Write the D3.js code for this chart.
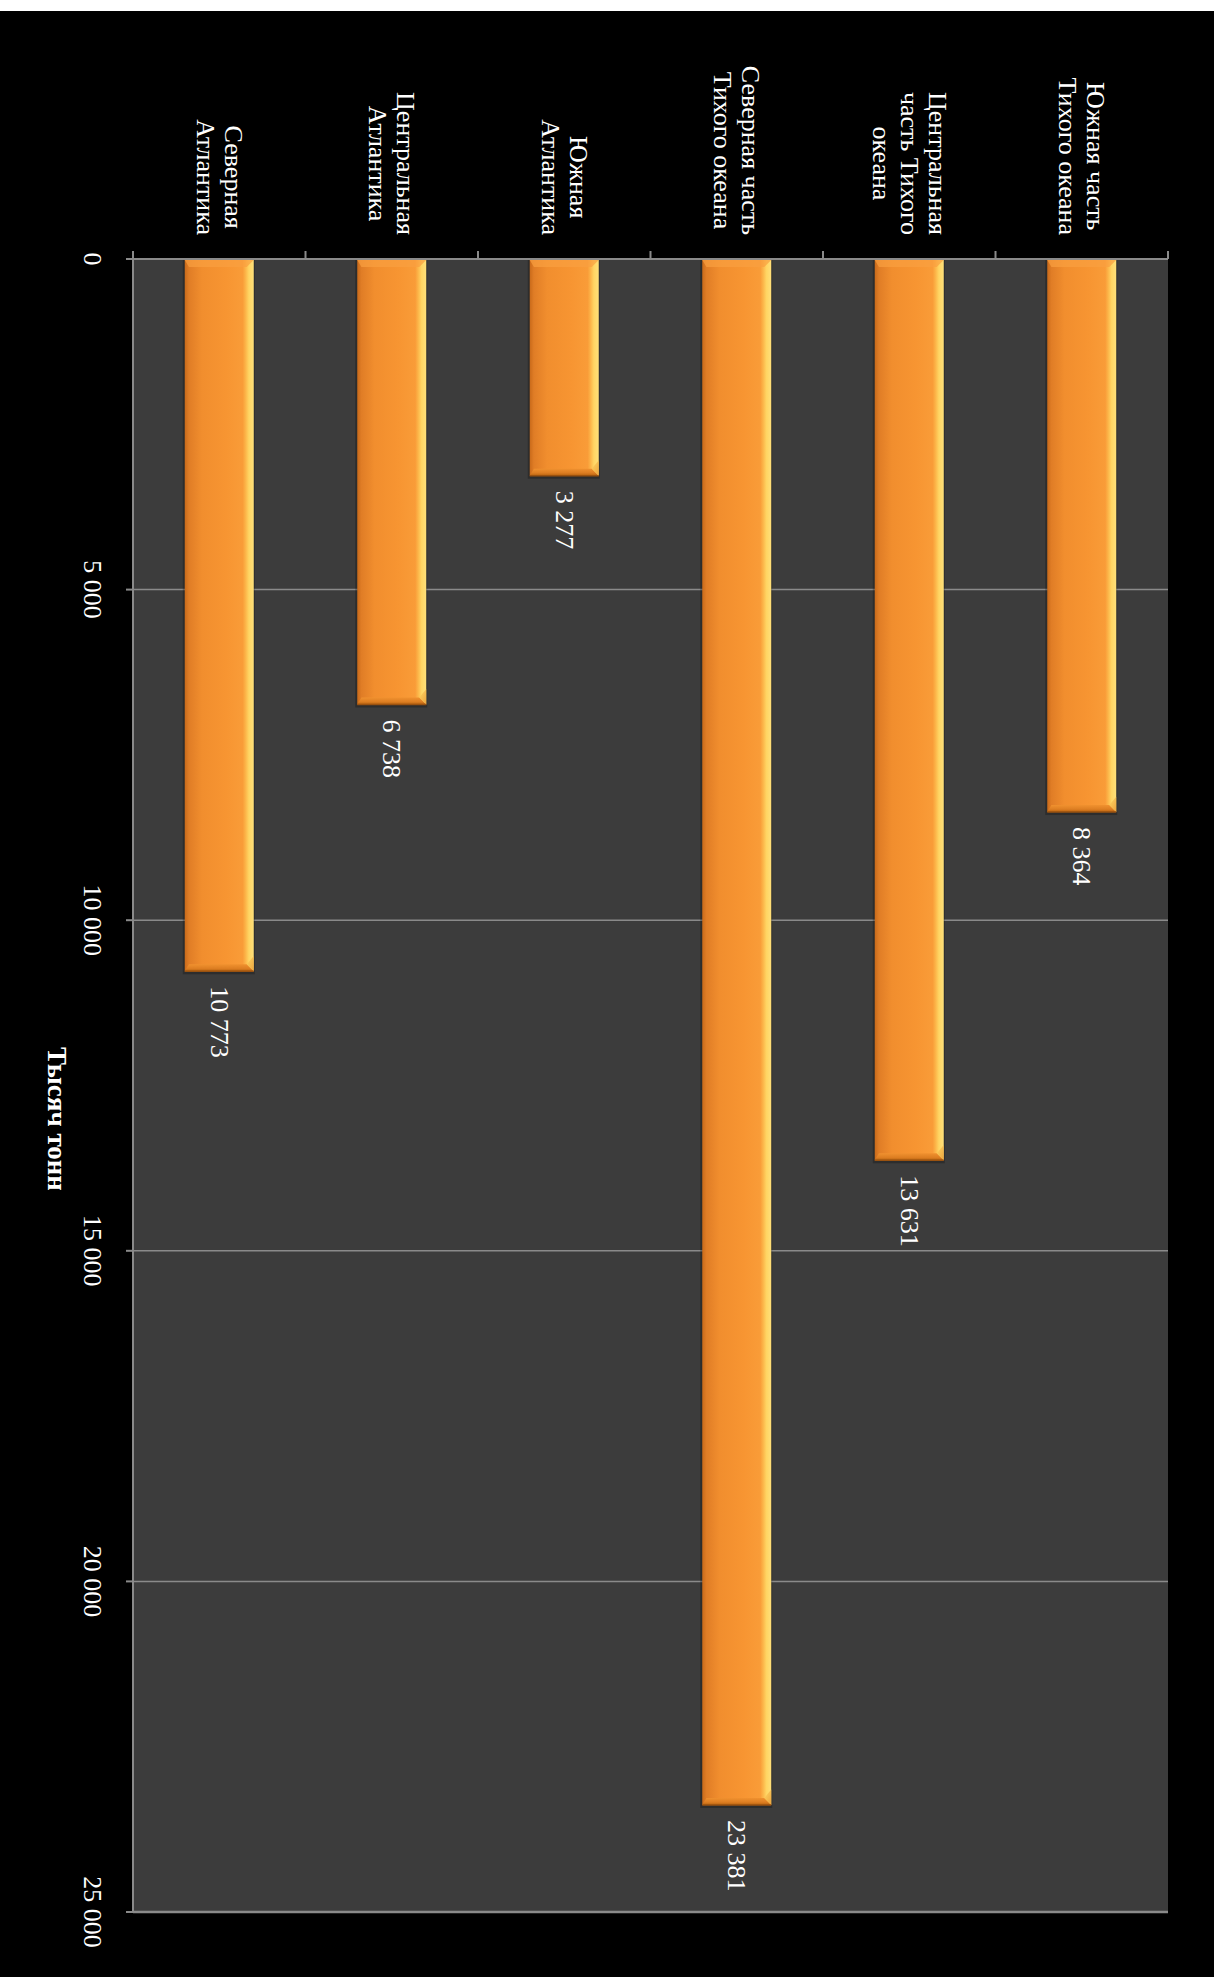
<!DOCTYPE html>
<html>
<head>
<meta charset="utf-8">
<script src="https://cdn.jsdelivr.net/npm/d3@7"></script>
<style>
  html, body { margin: 0; padding: 0; background: #ffffff; }
  svg { display: block; }
  text { font-family: "Liberation Serif", "Times New Roman", serif; fill: #ffffff; }
</style>
</head>
<body>
<svg id="chart" width="1223" height="1977"></svg>
<script>
// Data
const categories = [
  ["Северная", "Атлантика"],
  ["Центральная", "Атлантика"],
  ["Южная", "Атлантика"],
  ["Северная часть", "Тихого океана"],
  ["Центральная", "часть Тихого", "океана"],
  ["Южная часть", "Тихого океана"]
];
const values = [10773, 6738, 3277, 23381, 13631, 8364];
const tickValues = [0, 5000, 10000, 15000, 20000, 25000];
const tickLabels = ["0", "5 000", "10 000", "15 000", "20 000", "25 000"];
const valueLabels = ["10 773", "6 738", "3 277", "23 381", "13 631", "8 364"];
const axisTitle = "Тысяч тонн";

const svg = d3.select("#chart");
const W = 1223, H = 1977;

// Black chart background
svg.append("rect").attr("x", 0).attr("y", 11).attr("width", 1214).attr("height", H - 11).attr("fill", "#000000");

const plot = { left: 133, right: 1168, top: 259, bottom: 1912 };

const x = d3.scaleBand().domain(d3.range(categories.length))
  .range([plot.left, plot.right]).paddingInner(0.6).paddingOuter(0.3);
const xb = d3.scaleBand().domain(d3.range(categories.length))
  .range([plot.left, plot.right]).padding(0);
const y = d3.scaleLinear().domain([0, 25000]).range([plot.top, plot.bottom]);

// Plot area
svg.append("rect").attr("x", plot.left).attr("y", plot.top)
  .attr("width", plot.right - plot.left).attr("height", plot.bottom - plot.top)
  .attr("fill", "#3c3c3c");

// Gradients
const defs = svg.append("defs");
const g1 = defs.append("linearGradient").attr("id", "barGrad").attr("x1", "0").attr("x2", "1").attr("y1", "0").attr("y2", "0");
[["0%", "#c96a1a"], ["6%", "#e07d26"], ["25%", "#f18e2e"], ["60%", "#f79532"], ["84%", "#f99c38"], ["88%", "#fcb448"], ["93%", "#ffd563"], ["100%", "#ffe07a"]]
  .forEach(([o, c]) => g1.append("stop").attr("offset", o).attr("stop-color", c));
const g2 = defs.append("linearGradient").attr("id", "bevelBottom").attr("x1", "0").attr("x2", "0").attr("y1", "0").attr("y2", "1");
[["0%", "#f0912f"], ["60%", "#dd7e22"], ["100%", "#b8630f"]]
  .forEach(([o, c]) => g2.append("stop").attr("offset", o).attr("stop-color", c));
const g3 = defs.append("linearGradient").attr("id", "bevelCorner").attr("x1", "0").attr("x2", "1").attr("y1", "0").attr("y2", "1");
[["0%", "#ffd866"], ["100%", "#e8952e"]]
  .forEach(([o, c]) => g3.append("stop").attr("offset", o).attr("stop-color", c));

// Gridlines
const gridColor = "#8a8a8a";
svg.append("g").selectAll("line").data(tickValues.slice(1)).join("line")
  .attr("x1", plot.left).attr("x2", plot.right)
  .attr("y1", d => y(d)).attr("y2", d => y(d))
  .attr("stroke", gridColor).attr("stroke-width", d => d === 25000 ? 2.5 : 1.5);

// Value axis ticks (left)
svg.append("g").selectAll("line").data(tickValues).join("line")
  .attr("x1", plot.left - 7).attr("x2", plot.left)
  .attr("y1", d => y(d)).attr("y2", d => y(d))
  .attr("stroke", gridColor).attr("stroke-width", 2);

// Bars
const bevel = 7;
const bars = svg.append("g");
values.forEach((v, i) => {
  const x0 = x(i), w = x.bandwidth(), x1 = x0 + w;
  const y0 = y(0) + 1, y1 = y(v);
  const g = bars.append("g");
  // shadow
  g.append("rect").attr("x", x0 - 2).attr("y", y0).attr("width", w + 3).attr("height", y1 - y0 + 3)
    .attr("fill", "#000").attr("opacity", 0.25);
  g.append("rect").attr("x", x0).attr("y", y0).attr("width", w).attr("height", y1 - y0)
    .attr("fill", "url(#barGrad)");
  // top bevel
  g.append("polygon")
    .attr("points", [[x0, y0], [x1, y0], [x1 - bevel, y0 + bevel], [x0 + bevel * 0.6, y0 + bevel]].map(p => p.join(",")).join(" "))
    .attr("fill", "#f9a040").attr("opacity", 0.7);
  // bottom bevel
  g.append("polygon")
    .attr("points", [[x0, y1], [x1, y1], [x1 - bevel, y1 - bevel], [x0 + bevel * 0.6, y1 - bevel]].map(p => p.join(",")).join(" "))
    .attr("fill", "url(#bevelBottom)");
  // right-bottom corner highlight
  g.append("polygon")
    .attr("points", [[x1 - bevel, y1 - bevel], [x1, y1 - bevel * 2.2], [x1, y1]].map(p => p.join(",")).join(" "))
    .attr("fill", "url(#bevelCorner)").attr("opacity", 0.8);
  g.append("line").attr("x1", x0).attr("x2", x1).attr("y1", y1).attr("y2", y1)
    .attr("stroke", "#9a5210").attr("stroke-width", 1.5);
});

// Category axis line (top) and ticks
svg.append("line").attr("x1", plot.left - 7).attr("x2", plot.right)
  .attr("y1", plot.top).attr("y2", plot.top).attr("stroke", gridColor).attr("stroke-width", 2);
svg.append("g").selectAll("line").data(d3.range(categories.length + 1)).join("line")
  .attr("x1", d => d < categories.length ? xb(d) : plot.right)
  .attr("x2", d => d < categories.length ? xb(d) : plot.right)
  .attr("y1", plot.top - 8).attr("y2", plot.top)
  .attr("stroke", gridColor).attr("stroke-width", 2);
// Value axis line (left)
svg.append("line").attr("x1", plot.left).attr("x2", plot.left)
  .attr("y1", plot.top - 8).attr("y2", plot.bottom).attr("stroke", gridColor).attr("stroke-width", 2);

// Value tick labels (rotated)
svg.append("g").selectAll("text").data(tickValues).join("text")
  .attr("transform", d => `translate(92,${y(d)}) rotate(90)`)
  .attr("text-anchor", "middle").attr("dominant-baseline", "central")
  .attr("font-size", 26)
  .text((d, i) => tickLabels[i]);

// Category labels (rotated, multi-line, centered lines, block end near axis)
const lineH = 28;
categories.forEach((lines, i) => {
  const cx = xb(i) + xb.bandwidth() / 2;
  const g = svg.append("g").attr("transform", `translate(${cx},235) rotate(90)`);
  const texts = lines.map((ln, j) => g.append("text")
    .attr("font-size", 26)
    .attr("text-anchor", "middle").attr("dominant-baseline", "central")
    .attr("y", (j - (lines.length - 1) / 2) * lineH)
    .text(ln));
  const maxW = d3.max(texts, t => t.node().getComputedTextLength());
  texts.forEach(t => t.attr("x", -maxW / 2));
});

// Value labels
values.forEach((v, i) => {
  const cx = x(i) + x.bandwidth() / 2;
  svg.append("text")
    .attr("transform", `translate(${cx},${y(v) + 15}) rotate(90)`)
    .attr("text-anchor", "start").attr("dominant-baseline", "central")
    .attr("font-size", 26)
    .text(valueLabels[i]);
});

// Axis title
svg.append("text")
  .attr("transform", `translate(57,1119) rotate(90)`)
  .attr("text-anchor", "middle").attr("dominant-baseline", "central")
  .attr("font-size", 27).attr("font-weight", "bold")
  .text(axisTitle);
</script>
</body>
</html>
